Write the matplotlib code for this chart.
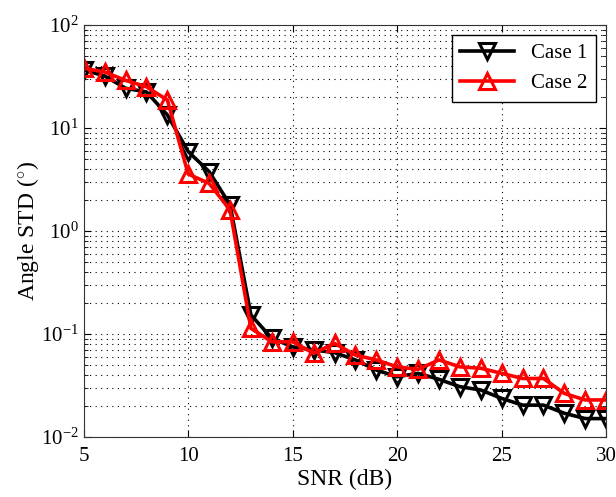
import matplotlib
matplotlib.use("Agg")
import matplotlib.pyplot as plt
from matplotlib.ticker import LogLocator, NullFormatter

plt.rcParams['font.family'] = ['Liberation Serif', 'DejaVu Serif']
plt.rcParams['mathtext.fontset'] = 'custom'
plt.rcParams['mathtext.rm'] = 'Liberation Serif'
plt.rcParams['mathtext.it'] = 'Liberation Serif:italic'
plt.rcParams['mathtext.bf'] = 'Liberation Serif:bold'

# SNR points (dB)
snr = list(range(5, 31))

# angle standard deviation (degrees)
case1 = [36.6, 32.0, 24.3, 22.4, 13.4, 5.9, 3.77, 1.8, 0.153, 0.091,
         0.075, 0.070, 0.066, 0.056, 0.0447, 0.0385, 0.0415, 0.0363, 0.0308, 0.0286,
         0.0237, 0.0204, 0.0204, 0.0170, 0.0151, 0.0151]
case2 = [38.0, 35.0, 29.0, 25.1, 18.7, 3.57, 2.9, 1.6, 0.1135, 0.084,
         0.084, 0.065, 0.081, 0.0625, 0.056, 0.048, 0.0454, 0.056, 0.048, 0.0465,
         0.0415, 0.037, 0.037, 0.0265, 0.0229, 0.0229]

fig = plt.figure(figsize=(6.16, 4.97), dpi=100)
ax = fig.add_axes([0.136, 0.1207, 0.848, 0.829])

ax.semilogy(snr, case1, color='black', lw=2.6, marker='v', ms=11,
            mfc='none', mec='black', mew=2.2, label='Case 1')
ax.semilogy(snr, case2, color='red', lw=2.6, marker='^', ms=11,
            mfc='none', mec='red', mew=2.2, label='Case 2')

ax.set_xlim(5, 30)
ax.set_ylim(1e-2, 1e2)
ax.set_xticks([5, 10, 15, 20, 25, 30])
ax.yaxis.set_major_locator(LogLocator(base=10, numticks=10))
ax.yaxis.set_minor_locator(LogLocator(base=10, subs=range(2, 10), numticks=50))
ax.yaxis.set_minor_formatter(NullFormatter())

ax.grid(True, which='major', ls=(0, (1, 4)), color='black', lw=0.8)
ax.grid(True, which='minor', axis='y', ls=(0, (1, 4)), color='black', lw=0.8)
ax.tick_params(which='both', direction='in', top=True, right=True, labelsize=15)
ax.tick_params(axis='x', pad=7)
ax.tick_params(which='minor', length=3)
ax.tick_params(which='major', length=5)
for s in ax.spines.values():
    s.set_color('#333333')

ax.set_xlabel('SNR (dB)', fontsize=17, labelpad=2)
ax.set_ylabel('Angle STD ($^{\\circ}$)', fontsize=17, labelpad=0)

leg = ax.legend(loc='upper right', fontsize=15, fancybox=False, framealpha=1,
                edgecolor='black', borderaxespad=0.5, handlelength=2.6)
leg.get_frame().set_linewidth(1.0)

fig.savefig('out.png', dpi=100)
